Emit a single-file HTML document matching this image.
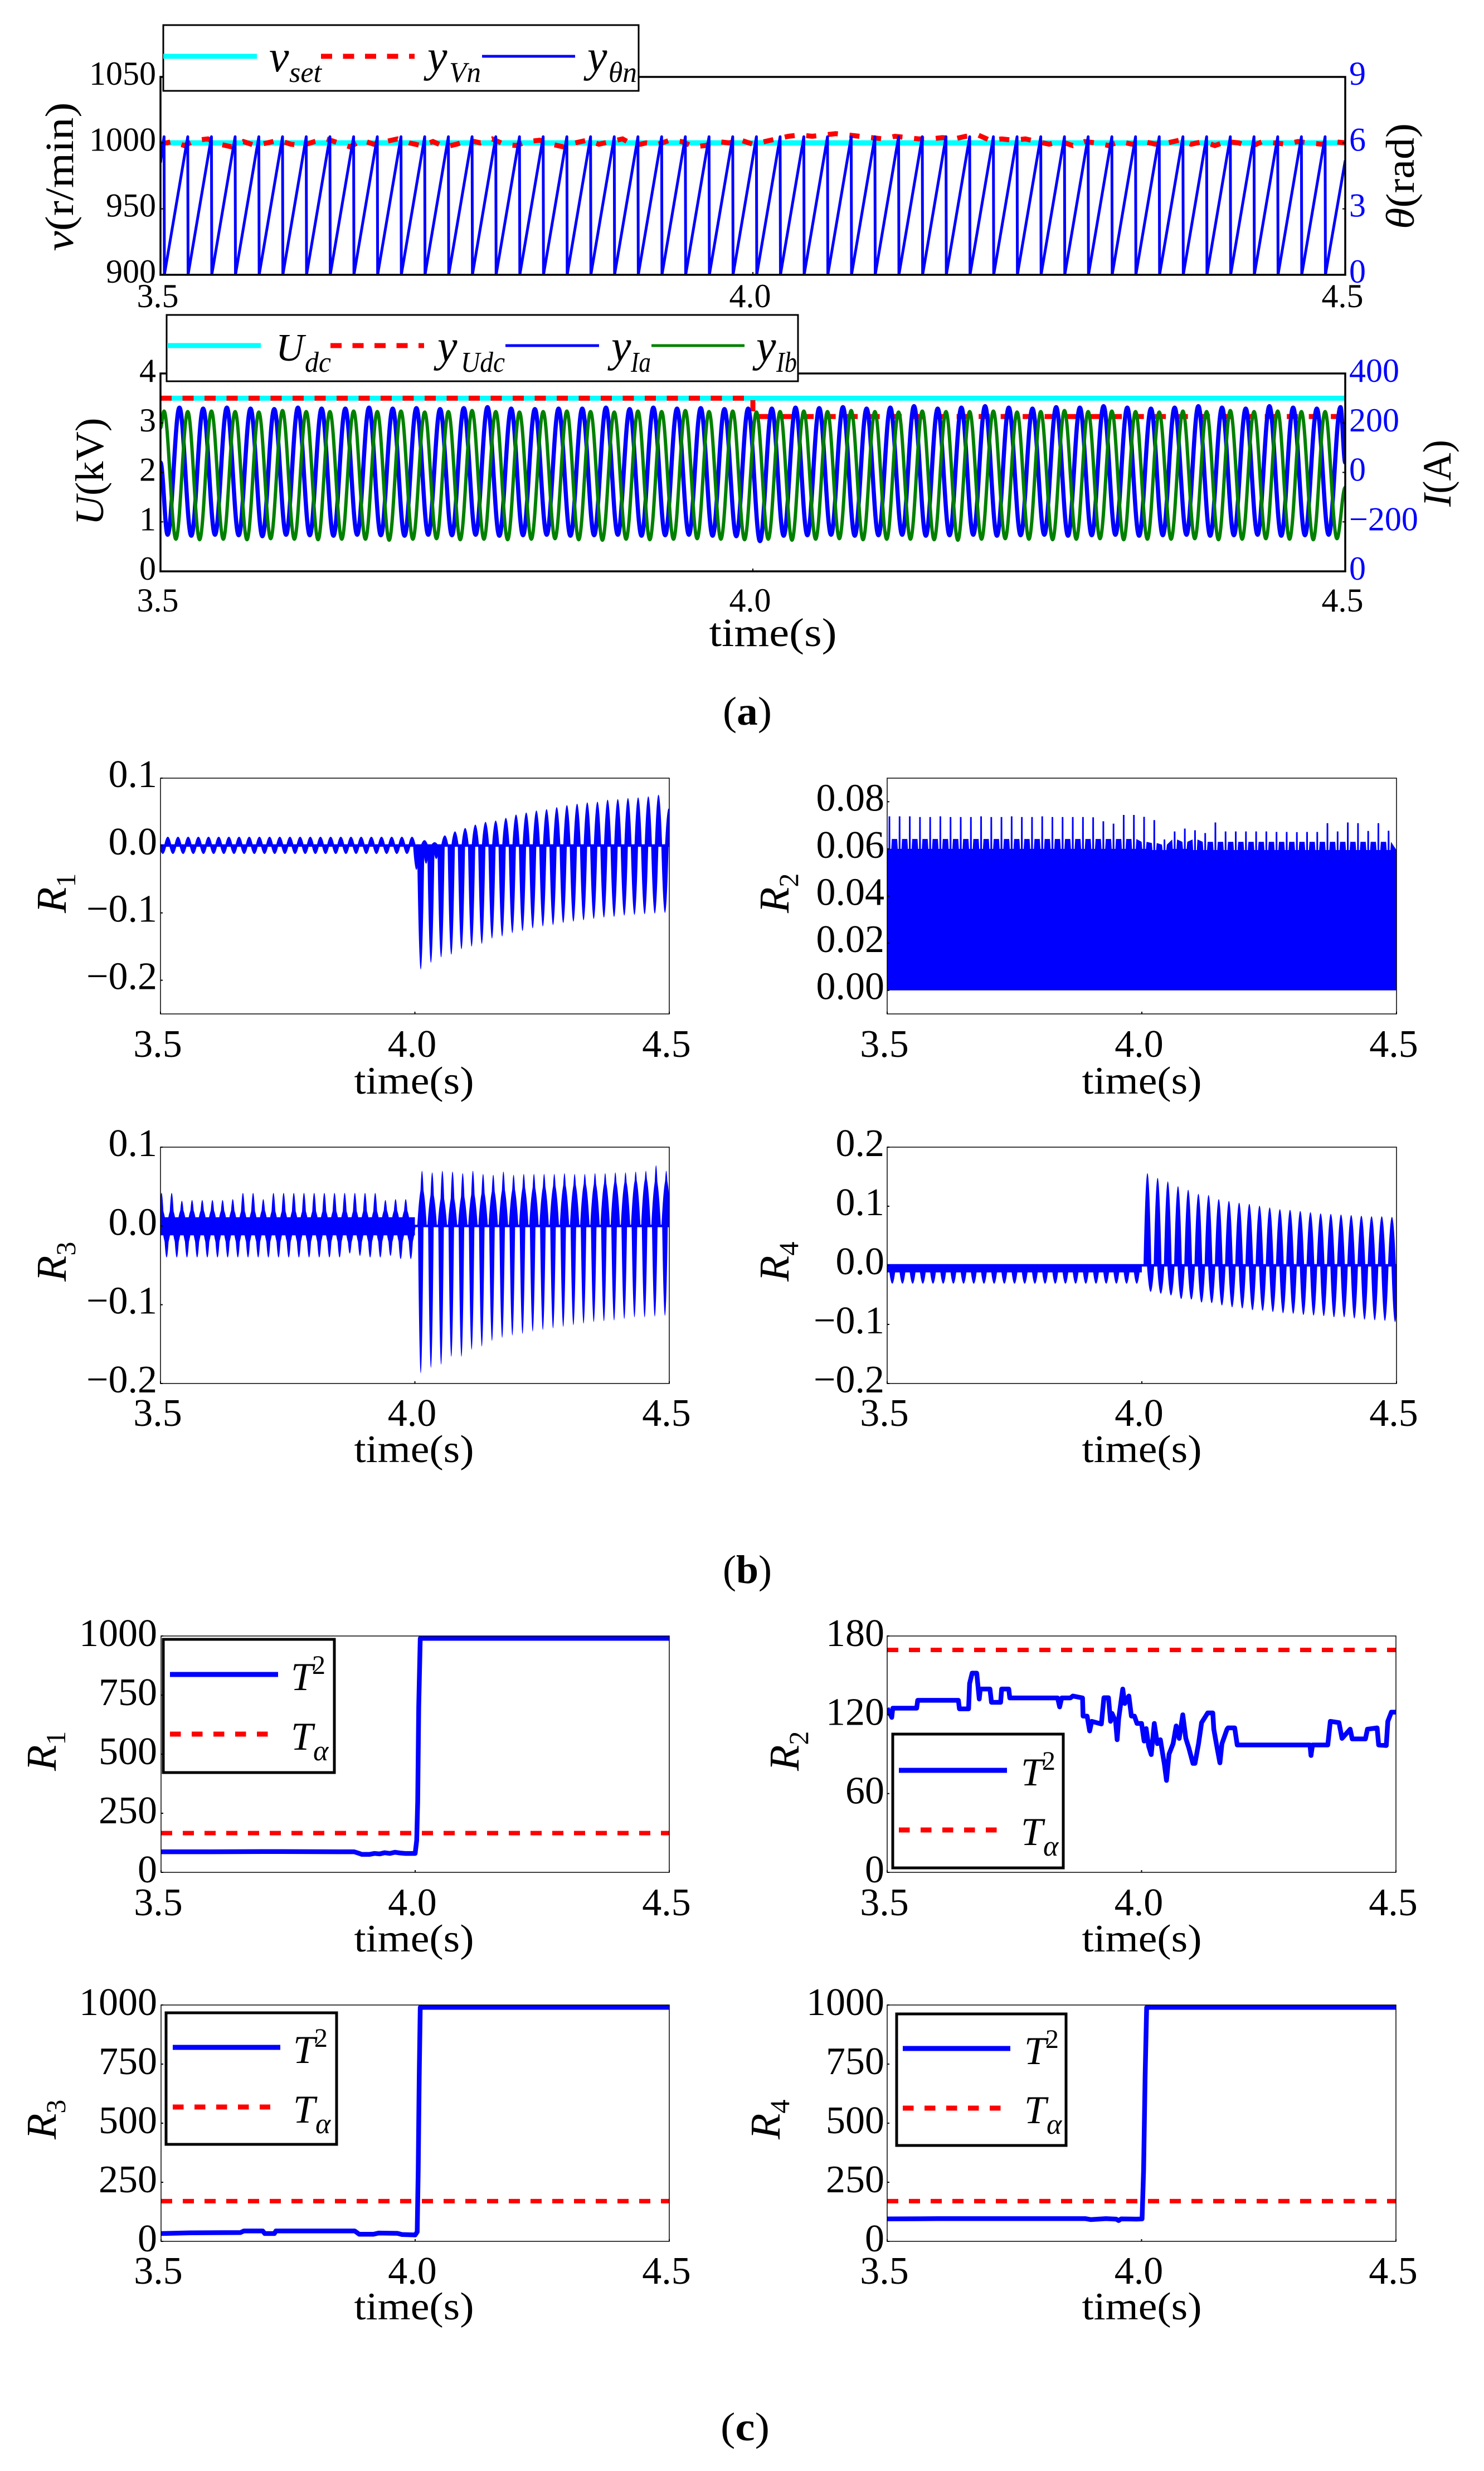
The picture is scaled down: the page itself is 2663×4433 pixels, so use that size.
<!DOCTYPE html>
<html lang="en">
<head>
<meta charset="utf-8">
<title>Fault response chart</title>
<style>
html,body{margin:0;padding:0;background:#fff;}
svg{display:block;}
text{font-family:"Liberation Serif",serif;fill:#000;}
.i{font-style:italic;}
</style>
</head>
<body>
<svg xmlns="http://www.w3.org/2000/svg" width="2663" height="4433" viewBox="0 0 2663 4433">
<defs>
<clipPath id="a1-clip"><rect x="288" y="138" width="2126" height="355"/></clipPath>
<clipPath id="a2-clip"><rect x="288" y="670" width="2126" height="355"/></clipPath>
<clipPath id="b1-clip"><rect x="288" y="1396" width="913" height="423"/></clipPath>
<clipPath id="b2-clip"><rect x="1592" y="1396" width="914" height="423"/></clipPath>
<clipPath id="b3-clip"><rect x="288" y="2058" width="913" height="424"/></clipPath>
<clipPath id="b4-clip"><rect x="1592" y="2058" width="914" height="424"/></clipPath>
<clipPath id="c1-clip"><rect x="288" y="2935" width="913" height="424"/></clipPath>
<clipPath id="c2-clip"><rect x="1592" y="2935" width="914" height="424"/></clipPath>
<clipPath id="c3-clip"><rect x="288" y="3597" width="913" height="424"/></clipPath>
<clipPath id="c4-clip"><rect x="1592" y="3597" width="914" height="424"/></clipPath>
</defs>

<g>
  <g id="a1-marks" clip-path="url(#a1-clip)"></g>
  <g id="a1-axes"></g>
  <text x="131" y="317" font-size="72" text-anchor="middle" textLength="267" lengthAdjust="spacingAndGlyphs" transform="rotate(-90 131 317)"><tspan class="i">v</tspan>(r/min)</text>
  <text x="2537" y="316" font-size="72" text-anchor="middle" textLength="190" lengthAdjust="spacingAndGlyphs" transform="rotate(-90 2537 316)"><tspan class="i">θ</tspan>(rad)</text>
  <g>
    <rect x="293" y="45" width="853" height="118" fill="#fff" stroke="#000" stroke-width="3"/>
    <line x1="293" x2="461" y1="101" y2="101" stroke="#00ffff" stroke-width="9"/>
    <text x="483" y="128" font-size="80" class="i">v</text>
    <text x="519" y="147" font-size="52" class="i" textLength="58" lengthAdjust="spacingAndGlyphs">set</text>
    <line x1="576" x2="744" y1="101" y2="101" stroke="#ff0000" stroke-width="9" stroke-dasharray="20 19.5"/>
    <text x="767" y="128" font-size="80" class="i">y</text>
    <text x="806" y="147" font-size="52" class="i" textLength="57" lengthAdjust="spacingAndGlyphs">Vn</text>
    <line x1="865" x2="1032" y1="101" y2="101" stroke="#0000ff" stroke-width="5"/>
    <text x="1054" y="128" font-size="80" class="i">y</text>
    <text x="1092" y="147" font-size="52" class="i" textLength="51" lengthAdjust="spacingAndGlyphs">θn</text>
  </g>
</g>

<g>
  <g id="a2-marks" clip-path="url(#a2-clip)"></g>
  <g id="a2-axes"></g>
  <text x="185" y="846" font-size="72" text-anchor="middle" textLength="193" lengthAdjust="spacingAndGlyphs" transform="rotate(-90 185 846)"><tspan class="i">U</tspan>(kV)</text>
  <text x="2603" y="849" font-size="72" text-anchor="middle" textLength="120" lengthAdjust="spacingAndGlyphs" transform="rotate(-90 2603 849)"><tspan class="i">I</tspan>(A)</text>
  <text x="1387" y="1159" font-size="72" text-anchor="middle" textLength="229" lengthAdjust="spacingAndGlyphs">time(s)</text>
  <g>
    <rect x="299" y="565" width="1133" height="119" fill="#fff" stroke="#000" stroke-width="3"/>
    <line x1="300" x2="468" y1="620" y2="620" stroke="#00ffff" stroke-width="9"/>
    <text x="495" y="647" font-size="70" class="i">U</text>
    <text x="547" y="667" font-size="52" class="i" textLength="47" lengthAdjust="spacingAndGlyphs">dc</text>
    <line x1="593" x2="761" y1="620" y2="620" stroke="#ff0000" stroke-width="9" stroke-dasharray="20 19.5"/>
    <text x="785" y="648" font-size="80" class="i">y</text>
    <text x="827" y="667" font-size="52" class="i" textLength="79" lengthAdjust="spacingAndGlyphs">Udc</text>
    <line x1="907" x2="1075" y1="620" y2="620" stroke="#0000ff" stroke-width="5"/>
    <text x="1097" y="648" font-size="80" class="i">y</text>
    <text x="1132" y="667" font-size="52" class="i" textLength="36" lengthAdjust="spacingAndGlyphs">Ia</text>
    <line x1="1169" x2="1336" y1="620" y2="620" stroke="#008000" stroke-width="5"/>
    <text x="1357" y="648" font-size="80" class="i">y</text>
    <text x="1393" y="667" font-size="52" class="i" textLength="37" lengthAdjust="spacingAndGlyphs">Ib</text>
  </g>
</g>
<text x="1341" y="1300" font-size="72" text-anchor="middle" textLength="88" lengthAdjust="spacingAndGlyphs">(<tspan font-weight="bold">a</tspan>)</text>

<g>
  <g id="b1-marks" clip-path="url(#b1-clip)"></g>
  <g id="b1-axes"></g>
  <text x="118" y="1638" font-size="76" transform="rotate(-90 118 1638)"><tspan class="i">R</tspan><tspan font-size="50" dy="17">1</tspan></text>
  <text x="743" y="1962" font-size="70" text-anchor="middle" textLength="215" lengthAdjust="spacingAndGlyphs">time(s)</text>
</g>
<g>
  <g id="b2-marks" clip-path="url(#b2-clip)"></g>
  <g id="b2-axes"></g>
  <text x="1415" y="1638" font-size="76" transform="rotate(-90 1415 1638)"><tspan class="i">R</tspan><tspan font-size="50" dy="17">2</tspan></text>
  <text x="2049" y="1962" font-size="70" text-anchor="middle" textLength="215" lengthAdjust="spacingAndGlyphs">time(s)</text>
</g>
<g>
  <g id="b3-marks" clip-path="url(#b3-clip)"></g>
  <g id="b3-axes"></g>
  <text x="118" y="2299" font-size="76" transform="rotate(-90 118 2299)"><tspan class="i">R</tspan><tspan font-size="50" dy="17">3</tspan></text>
  <text x="743" y="2623" font-size="70" text-anchor="middle" textLength="215" lengthAdjust="spacingAndGlyphs">time(s)</text>
</g>
<g>
  <g id="b4-marks" clip-path="url(#b4-clip)"></g>
  <g id="b4-axes"></g>
  <text x="1415" y="2299" font-size="76" transform="rotate(-90 1415 2299)"><tspan class="i">R</tspan><tspan font-size="50" dy="17">4</tspan></text>
  <text x="2049" y="2623" font-size="70" text-anchor="middle" textLength="215" lengthAdjust="spacingAndGlyphs">time(s)</text>
</g>
<text x="1341" y="2840" font-size="72" text-anchor="middle" textLength="88" lengthAdjust="spacingAndGlyphs">(<tspan font-weight="bold">b</tspan>)</text>

<g>
  <g id="c1-marks" clip-path="url(#c1-clip)"></g>
  <g id="c1-axes"></g>
  <text x="100" y="3177" font-size="76" transform="rotate(-90 100 3177)"><tspan class="i">R</tspan><tspan font-size="50" dy="17">1</tspan></text>
  <text x="743" y="3501" font-size="70" text-anchor="middle" textLength="215" lengthAdjust="spacingAndGlyphs">time(s)</text>
  <g>
    <rect x="293" y="2941" width="307" height="239" fill="#fff" stroke="#000" stroke-width="5"/>
    <line x1="305" x2="499" y1="3004" y2="3004" stroke="#0000ff" stroke-width="9"/>
    <text x="522" y="3032" font-size="71" class="i">T</text>
    <text x="560" y="3003" font-size="48">2</text>
    <line x1="305" x2="482" y1="3111" y2="3111" stroke="#ff0000" stroke-width="9" stroke-dasharray="19.5 19.5"/>
    <text x="522" y="3139" font-size="71" class="i">T</text>
    <text x="562" y="3158" font-size="52" class="i">α</text>
  </g>
</g>
<g>
  <g id="c2-marks" clip-path="url(#c2-clip)"></g>
  <g id="c2-axes"></g>
  <text x="1433" y="3177" font-size="76" transform="rotate(-90 1433 3177)"><tspan class="i">R</tspan><tspan font-size="50" dy="17">2</tspan></text>
  <text x="2049" y="3501" font-size="70" text-anchor="middle" textLength="215" lengthAdjust="spacingAndGlyphs">time(s)</text>
  <g>
    <rect x="1602" y="3111" width="306" height="240" fill="#fff" stroke="#000" stroke-width="5"/>
    <line x1="1613" x2="1807" y1="3176" y2="3176" stroke="#0000ff" stroke-width="9"/>
    <text x="1832" y="3203" font-size="71" class="i">T</text>
    <text x="1870" y="3175" font-size="48">2</text>
    <line x1="1613" x2="1790" y1="3283" y2="3283" stroke="#ff0000" stroke-width="9" stroke-dasharray="19.5 19.5"/>
    <text x="1832" y="3310" font-size="71" class="i">T</text>
    <text x="1872" y="3329" font-size="52" class="i">α</text>
  </g>
</g>
<g>
  <g id="c3-marks" clip-path="url(#c3-clip)"></g>
  <g id="c3-axes"></g>
  <text x="100" y="3838" font-size="76" transform="rotate(-90 100 3838)"><tspan class="i">R</tspan><tspan font-size="50" dy="17">3</tspan></text>
  <text x="743" y="4161" font-size="70" text-anchor="middle" textLength="215" lengthAdjust="spacingAndGlyphs">time(s)</text>
  <g>
    <rect x="298" y="3611" width="306" height="236" fill="#fff" stroke="#000" stroke-width="5"/>
    <line x1="310" x2="503" y1="3673" y2="3673" stroke="#0000ff" stroke-width="9"/>
    <text x="526" y="3701" font-size="71" class="i">T</text>
    <text x="564" y="3672" font-size="48">2</text>
    <line x1="310" x2="485" y1="3780" y2="3780" stroke="#ff0000" stroke-width="9" stroke-dasharray="19.5 19.5"/>
    <text x="526" y="3808" font-size="71" class="i">T</text>
    <text x="566" y="3827" font-size="52" class="i">α</text>
  </g>
</g>
<g>
  <g id="c4-marks" clip-path="url(#c4-clip)"></g>
  <g id="c4-axes"></g>
  <text x="1399" y="3838" font-size="76" transform="rotate(-90 1399 3838)"><tspan class="i">R</tspan><tspan font-size="50" dy="17">4</tspan></text>
  <text x="2049" y="4161" font-size="70" text-anchor="middle" textLength="215" lengthAdjust="spacingAndGlyphs">time(s)</text>
  <g>
    <rect x="1609" y="3613" width="304" height="236" fill="#fff" stroke="#000" stroke-width="5"/>
    <line x1="1620" x2="1813" y1="3675" y2="3675" stroke="#0000ff" stroke-width="9"/>
    <text x="1838" y="3703" font-size="71" class="i">T</text>
    <text x="1876" y="3674" font-size="48">2</text>
    <line x1="1620" x2="1796" y1="3782" y2="3782" stroke="#ff0000" stroke-width="9" stroke-dasharray="19.5 19.5"/>
    <text x="1838" y="3809" font-size="71" class="i">T</text>
    <text x="1878" y="3828" font-size="52" class="i">α</text>
  </g>
</g>
<text x="1337" y="4378" font-size="72" text-anchor="middle" textLength="88" lengthAdjust="spacingAndGlyphs">(<tspan font-weight="bold">c</tspan>)</text>
</svg>

<script>
// ---------- shared categories and tick labels ----------
const cycleTimes = [3.5,3.52,3.54,3.56,3.58,3.6,3.62,3.64,3.66,3.68,3.7,3.72,3.74,3.76,3.78,3.8,3.82,3.84,3.86,3.88,3.9,3.92,3.94,3.96,3.98,4.0,4.02,4.04,4.06,4.08,4.1,4.12,4.14,4.16,4.18,4.2,4.22,4.24,4.26,4.28,4.3,4.32,4.34,4.36,4.38,4.4,4.42,4.44,4.46,4.48];
const xTickValues = [3.5,4.0,4.5];
const xTickLabels = ['3.5','4.0','4.5'];
const speedTicks = [900,950,1000,1050];
const speedTickLabels = ['900','950','1000','1050'];
const angleTicks = [0,3,6,9];
const angleTickLabels = ['0','3','6','9'];
const voltageTicks = [0,1,2,3,4];
const voltageTickLabels = ['0','1','2','3','4'];
const currentTicks = [400,200,0,-200,-400];
const currentTickLabels = ['400','200','0','−200','0'];
const r1Ticks = [0.1,0,-0.1,-0.2];
const r1TickLabels = ['0.1','0.0','−0.1','−0.2'];
const r2Ticks = [0.08,0.06,0.04,0.02,0];
const r2TickLabels = ['0.08','0.06','0.04','0.02','0.00'];
const r3Ticks = [0.1,0,-0.1,-0.2];
const r3TickLabels = ['0.1','0.0','−0.1','−0.2'];
const r4Ticks = [0.2,0.1,0,-0.1,-0.2];
const r4TickLabels = ['0.2','0.1','0.0','−0.1','−0.2'];
const t2Ticks = [1000,750,500,250,0];
const t2TickLabels = ['1000','750','500','250','0'];
const t2R2Ticks = [180,120,60,0];
const t2R2TickLabels = ['180','120','60','0'];

// ---------- panel (a) speed ----------
const speedSetTimes = [3.5,4.5];
const speedSetValues = [1000,1000];
const yVnTimes = [3.5,3.51,3.52,3.53,3.54,3.55,3.56,3.57,3.58,3.59,3.6,3.61,3.62,3.63,3.64,3.65,3.66,3.67,3.68,3.69,3.7,3.71,3.72,3.73,3.74,3.75,3.76,3.77,3.78,3.79,3.8,3.81,3.82,3.83,3.84,3.85,3.86,3.87,3.88,3.89,3.9,3.91,3.92,3.93,3.94,3.95,3.96,3.97,3.98,3.99,4.0,4.01,4.02,4.03,4.04,4.05,4.06,4.07,4.08,4.09,4.1,4.11,4.12,4.13,4.14,4.15,4.16,4.17,4.18,4.19,4.2,4.21,4.22,4.23,4.24,4.25,4.26,4.27,4.28,4.29,4.3,4.31,4.32,4.33,4.34,4.35,4.36,4.37,4.38,4.39,4.4,4.41,4.42,4.43,4.44,4.45,4.46,4.47,4.48,4.49,4.5];
const yVnValues = [999,1001,998,1002,1003,999,997,1001,998,1000,1002,999,998,1001,1003,1000,997,1002,999,1001,1003,1000,998,1001,997,999,1002,1000,1003,999,998,1001,1002,999,997,1000,1002,999,1001,1003,998,1000,999,1002,1001,997,998,1001,1000,1002,999,1001,1003,1005,1006,1005,1006,1007,1006,1005,1004,1003,1005,1004,1003,1003,1004,1003,1005,1006,1002,1003,1002,1003,1001,999,1001,998,1001,1000,998,1001,999,1001,999,1000,1002,999,1001,998,1001,1000,997,1001,1000,999,1001,1000,999,1001,1000];
const thetaPeaks = [6.28,6.28,6.28,6.28,6.28,6.28,6.28,6.28,6.28,6.28,6.28,6.28,6.28,6.28,6.28,6.28,6.28,6.28,6.28,6.28,6.28,6.28,6.28,6.28,6.28,6.28,6.28,6.28,6.28,6.28,6.28,6.28,6.28,6.28,6.28,6.28,6.28,6.28,6.28,6.28,6.28,6.28,6.28,6.28,6.28,6.28,6.28,6.28,6.28,6.28];
const thetaFirst = 5.1;
const thetaLast = 5.2;

// ---------- panel (a) voltage and current ----------
const udcSetTimes = [3.5,4.5];
const udcSetValues = [3.5,3.5];
const yUdcTimes = [3.5,4.0,4.0,4.5];
const yUdcValues = [3.5,3.5,3.13,3.13];
const iaPeaks = [262,258,262,258,256,262,258,258,262,258,260,256,260,264,258,256,258,258,262,256,262,258,260,256,258,258,262,260,264,258,262,268,258,262,268,262,258,264,262,268,262,258,262,268,262,258,268,262,258,264];
const iaTroughs = [-252,-256,-252,-254,-258,-252,-254,-256,-252,-254,-256,-252,-254,-252,-256,-254,-252,-256,-254,-252,-256,-254,-252,-256,-258,-278,-256,-254,-252,-256,-254,-252,-256,-254,-252,-256,-254,-252,-256,-254,-252,-256,-254,-252,-256,-254,-252,-256,-254,-252];
const ibPeaks = [248,246,248,246,244,250,246,246,248,246,248,244,246,250,246,244,246,248,246,244,248,246,250,246,248,244,246,248,246,250,246,244,248,246,246,248,244,246,250,246,248,246,244,248,246,250,246,248,246,246];
const ibTroughs = [-270,-272,-270,-272,-268,-270,-272,-270,-270,-274,-270,-268,-272,-270,-272,-270,-268,-272,-274,-270,-272,-270,-268,-270,-272,-270,-274,-270,-268,-272,-270,-270,-272,-274,-270,-268,-270,-272,-270,-268,-272,-270,-270,-268,-272,-270,-268,-270,-272,-268];
const iaFirst = 40;
const iaLast = 40;
const ibFirst = 180;
const ibLast = -60;

// ---------- panel (b) residuals ----------
const r1Upper = [0.013,0.013,0.013,0.013,0.013,0.013,0.013,0.013,0.013,0.013,0.013,0.013,0.013,0.013,0.013,0.013,0.013,0.013,0.013,0.013,0.013,0.013,0.013,0.013,0.013,0.008,0.005,0.015,0.021,0.026,0.031,0.035,0.037,0.041,0.046,0.049,0.052,0.054,0.057,0.06,0.062,0.064,0.065,0.068,0.069,0.0705,0.0715,0.073,0.0755,0.055];
const r1Lower = [-0.0125,-0.0125,-0.0125,-0.0125,-0.0125,-0.0125,-0.0125,-0.0125,-0.0125,-0.0125,-0.0125,-0.0125,-0.0125,-0.0125,-0.0125,-0.0125,-0.0125,-0.0125,-0.0125,-0.0125,-0.0125,-0.0125,-0.0125,-0.0125,-0.0125,-0.184,-0.174,-0.166,-0.162,-0.154,-0.15,-0.146,-0.138,-0.135,-0.13,-0.127,-0.123,-0.12,-0.118,-0.115,-0.113,-0.111,-0.109,-0.107,-0.106,-0.104,-0.103,-0.102,-0.101,-0.1];
const r1TransientTimes = [4.003,4.013,4.022,4.03,4.042,4.05];
const r1TransientValues = [-0.036,-0.03,-0.027,-0.027,-0.02,-0.018];

const r2Spikes = [0.0738,0.0738,0.0738,0.0735,0.0735,0.0738,0.0735,0.0735,0.0735,0.0738,0.0735,0.0735,0.0738,0.0735,0.0735,0.0738,0.0735,0.0735,0.0735,0.0735,0.0734,0.0717,0.0707,0.0744,0.0744,0.0736,0.0722,0.064,0.0674,0.0686,0.0679,0.0667,0.0712,0.0674,0.0674,0.0674,0.0674,0.0674,0.0672,0.0672,0.0671,0.0672,0.0672,0.0709,0.0674,0.0712,0.0709,0.0676,0.0709,0.0677];
const r2Plateau = [0.0642,0.0642,0.0642,0.0642,0.0642,0.0642,0.0642,0.0642,0.0642,0.0642,0.0642,0.0642,0.0642,0.0642,0.0642,0.0642,0.0642,0.0642,0.0642,0.0642,0.0642,0.0642,0.0642,0.0642,0.0642,0.063,0.0625,0.0618,0.064,0.063,0.064,0.063,0.063,0.063,0.063,0.063,0.063,0.063,0.063,0.063,0.063,0.063,0.063,0.063,0.063,0.063,0.063,0.063,0.063,0.063];
const r2Dips = [0.06,0.06,0.06,0.06,0.06,0.06,0.06,0.06,0.06,0.06,0.06,0.06,0.06,0.06,0.06,0.06,0.06,0.06,0.06,0.06,0.06,0.06,0.06,0.06,0.06,0.06,0.0595,0.0595,0.06,0.06,0.0595,0.0595,0.0595,0.0595,0.0595,0.0595,0.0595,0.0595,0.0595,0.0595,0.0595,0.0595,0.0595,0.0595,0.0595,0.0595,0.0595,0.0595,0.0595,0.0595];

const r3Upper = [0.042,0.042,0.032,0.033,0.033,0.033,0.033,0.034,0.042,0.042,0.034,0.042,0.042,0.042,0.042,0.042,0.042,0.042,0.042,0.042,0.042,0.042,0.033,0.034,0.034,0.07,0.068,0.07,0.069,0.067,0.07,0.066,0.065,0.069,0.065,0.066,0.066,0.066,0.066,0.067,0.066,0.066,0.067,0.067,0.068,0.068,0.069,0.07,0.077,0.07];
const r3Lower = [-0.04,-0.04,-0.04,-0.04,-0.04,-0.04,-0.04,-0.04,-0.04,-0.04,-0.04,-0.04,-0.04,-0.04,-0.04,-0.04,-0.04,-0.04,-0.035,-0.038,-0.04,-0.04,-0.038,-0.042,-0.042,-0.187,-0.18,-0.176,-0.166,-0.166,-0.157,-0.153,-0.146,-0.142,-0.139,-0.137,-0.134,-0.132,-0.13,-0.128,-0.126,-0.124,-0.122,-0.121,-0.12,-0.118,-0.116,-0.116,-0.115,-0.114];
const r3Shoulder = [0.022,0.022,0.022,0.022,0.022,0.022,0.022,0.022,0.022,0.022,0.022,0.022,0.022,0.022,0.022,0.022,0.022,0.022,0.022,0.022,0.022,0.022,0.022,0.022,0.022,0.05,0.044,0.04,0.04,0.042,0.045,0.046,0.048,0.05,0.05,0.052,0.052,0.053,0.054,0.055,0.055,0.056,0.056,0.057,0.058,0.058,0.06,0.062,0.06,0.06];
const r3LowerShoulder = [-0.024,-0.024,-0.024,-0.024,-0.024,-0.024,-0.024,-0.024,-0.024,-0.024,-0.024,-0.024,-0.024,-0.024,-0.024,-0.024,-0.024,-0.024,-0.024,-0.024,-0.024,-0.024,-0.024,-0.024,-0.024,0,0,0,0,0,0,0,0,0,0,0,0,0,0,0,0,0,0,0,0,0,0,0,0,0];
const r3MassUp = [0.011,0.011,0.011,0.011,0.011,0.011,0.011,0.011,0.011,0.011,0.011,0.011,0.011,0.011,0.011,0.011,0.011,0.011,0.011,0.011,0.011,0.011,0.011,0.011,0.011,0,0,0,0,0,0,0,0,0,0,0,0,0,0,0,0,0,0,0,0,0,0,0,0,0];
const r3MassLow = [-0.012,-0.012,-0.012,-0.012,-0.012,-0.012,-0.012,-0.012,-0.012,-0.012,-0.012,-0.012,-0.012,-0.012,-0.012,-0.012,-0.012,-0.012,-0.012,-0.012,-0.012,-0.012,-0.012,-0.012,-0.012,0,0,0,0,0,0,0,0,0,0,0,0,0,0,0,0,0,0,0,0,0,0,0,0,0];

const r4Upper = [0,0,0,0,0,0,0,0,0,0,0,0,0,0,0,0,0,0,0,0,0,0,0,0,0,0.156,0.148,0.142,0.134,0.128,0.121,0.119,0.112,0.109,0.106,0.104,0.101,0.098,0.095,0.094,0.092,0.09,0.088,0.087,0.086,0.085,0.084,0.083,0.083,0.082];
const r4Lower = [-0.031,-0.031,-0.031,-0.031,-0.031,-0.031,-0.031,-0.031,-0.031,-0.031,-0.031,-0.031,-0.031,-0.031,-0.031,-0.031,-0.031,-0.031,-0.031,-0.031,-0.031,-0.031,-0.031,-0.031,-0.031,-0.045,-0.048,-0.051,-0.057,-0.058,-0.063,-0.064,-0.068,-0.071,-0.073,-0.076,-0.077,-0.079,-0.081,-0.082,-0.084,-0.085,-0.086,-0.088,-0.088,-0.09,-0.092,-0.093,-0.094,-0.096];
const r4BandDepth = [-0.012,-0.012,-0.012,-0.012,-0.012,-0.012,-0.012,-0.012,-0.012,-0.012,-0.012,-0.012,-0.012,-0.012,-0.012,-0.012,-0.012,-0.012,-0.012,-0.012,-0.012,-0.012,-0.012,-0.012,-0.012,0,0,0,0,0,0,0,0,0,0,0,0,0,0,0,0,0,0,0,0,0,0,0,0,0];

// ---------- panel (c) statistics ----------
const t2R1Times = [3.5,3.6,3.7,3.85,3.88,3.89,3.895,3.91,3.92,3.93,3.94,3.95,3.96,3.97,3.98,3.99,4.0,4.003,4.005,4.007,4.01,4.5];
const t2R1Values = [87,87,88,87,87,80,76,76,80,78,83,80,85,82,80,80,80,135,300,700,990,990];
const t2R2Times = [3.5,3.509,3.511,3.558,3.56,3.64,3.642,3.66,3.662,3.667,3.676,3.681,3.683,3.702,3.705,3.723,3.725,3.739,3.741,3.835,3.839,3.843,3.86,3.865,3.884,3.885,3.893,3.898,3.902,3.921,3.926,3.935,3.939,3.942,3.949,3.952,3.955,3.963,3.967,3.975,3.98,3.986,3.991,4.0,4.005,4.009,4.014,4.019,4.025,4.031,4.037,4.042,4.045,4.049,4.054,4.062,4.068,4.074,4.081,4.087,4.093,4.101,4.105,4.112,4.118,4.13,4.14,4.142,4.147,4.154,4.158,4.168,4.17,4.183,4.188,4.331,4.333,4.336,4.366,4.371,4.388,4.394,4.41,4.414,4.44,4.444,4.463,4.466,4.481,4.484,4.491,4.5];
const t2R2Values = [125,118,125,125,131,131,124.5,124.5,143.8,151.7,151.7,132,139.6,139.6,129.5,129.5,139.6,139.6,132.8,132.8,126,132.8,132.8,134.3,132.8,119,119,107.7,115,113,133,133,115,121,115,101,117,139.6,128.6,134.3,119,119,113.4,113.4,100,109.5,96,89.7,113.4,98,101,89,82,70,90,98,111.5,102,120,102,94.6,83,83,98,114,121.4,121.4,109,98,83.4,98,109,110,110,97,97,89,97,97,115,114,102,109,101.6,101.6,109,110,97,96.6,115,122,122];
const t2R3Times = [3.5,3.556,3.656,3.663,3.7,3.704,3.723,3.726,3.881,3.89,3.918,3.928,3.965,3.974,4.0,4.004,4.006,4.008,4.01,4.5];
const t2R3Values = [33,36,37,44,44,33,33,44,44,30,30,35,34,29,27,40,300,700,990,990];
const t2R4Times = [3.5,3.6,3.89,3.9,3.93,3.95,3.955,3.96,3.99,4.001,4.004,4.007,4.01,4.5];
const t2R4Values = [95,96,96,92,96,94,88,95,94,95,300,700,990,990];
const limitTimes = [3.5,4.5];
const limitR1 = [166,166];
const limitR2 = [169.4,169.4];
const limitR3 = [170,170];
const limitR4 = [170,170];

// ---------- helpers ----------
const SVG_NS = 'http://www.w3.org/2000/svg';
function linear(d0, d1, r0, r1) {
  return function (v) { return r0 + (v - d0) / (d1 - d0) * (r1 - r0); };
}
function mk(parent, tag, name, attrs, text) {
  const el = document.createElementNS(SVG_NS, tag);
  
  
  for (const k in attrs) el.setAttribute(k, attrs[k]);
  if (text !== undefined) el.textContent = text;
  parent.appendChild(el);
  return el;
}
function f(n) { return n.toFixed(2); }
function linePath(ts, vs, sx, sy) {
  let d = '';
  for (let i = 0; i < ts.length; i++) d += (i ? 'L' : 'M') + f(sx(ts[i])) + ' ' + f(sy(vs[i]));
  return d;
}
function lensPath(values, phase, halfWidth, sx, sy) {
  const y0 = sy(0);
  let d = '';
  for (let i = 0; i < values.length; i++) {
    const t = cycleTimes[i] + phase(cycleTimes[i]);
    const x = sx(t);
    const ctrl = y0 + 2 * (sy(values[i]) - y0);
    d += 'M' + f(x - halfWidth) + ' ' + f(y0) + 'Q' + f(x) + ' ' + f(ctrl) + ' ' + f(x + halfWidth) + ' ' + f(y0) + 'Z';
  }
  return d;
}
function stepBand(up, low, sx, sy) {
  let top = '', bottom = '';
  for (let i = 0; i < cycleTimes.length; i++) {
    const a = sx(cycleTimes[i]);
    const b = sx(cycleTimes[i] + 0.02);
    top += (i ? 'L' : 'M') + f(a) + ' ' + f(sy(up[i])) + 'L' + f(b) + ' ' + f(sy(up[i]));
    bottom = 'L' + f(b) + ' ' + f(sy(low[i])) + 'L' + f(a) + ' ' + f(sy(low[i])) + bottom;
  }
  return top + bottom + 'Z';
}
function drawAxes(id, box, sw, tickSize, xBase, ticks, labels, sy, labelRight, labelDy, fontSize, xName) {
  const g = document.getElementById(id);
  mk(g, 'rect', 'plot-frame', {x: box.x0, y: box.y1, width: box.x1 - box.x0, height: box.y0 - box.y1, fill: 'none', stroke: '#000', 'stroke-width': sw});
  const sx = linear(3.5, 4.5, box.x0, box.x1);
  xTickValues.forEach(function (v, i) {
    mk(g, 'line', 'x-tick', {x1: sx(v), x2: sx(v), y1: box.y0, y2: box.y0 - tickSize, stroke: '#000', 'stroke-width': 2});
    mk(g, 'text', xName, {x: sx(v) - 5, y: xBase, 'font-size': fontSize, 'text-anchor': 'middle'}, xTickLabels[i]);
  });
  ticks.forEach(function (v, i) {
    mk(g, 'line', 'y-tick', {x1: box.x0, x2: box.x0 + tickSize, y1: sy(v), y2: sy(v), stroke: '#000', 'stroke-width': 2});
    mk(g, 'text', 'y-tick-label', {x: labelRight, y: sy(v) + labelDy, 'font-size': fontSize, 'text-anchor': 'end'}, labels[i]);
  });
}
function drawRightAxis(id, box, ticks, labels, sy, dy) {
  const g = document.getElementById(id);
  ticks.forEach(function (v, i) {
    mk(g, 'line', 'right-y-tick', {x1: box.x1, x2: box.x1 - 5, y1: sy(v), y2: sy(v), stroke: '#000', 'stroke-width': 2});
    mk(g, 'text', 'right-y-tick-label', {x: box.x1 + 7, y: sy(v) + dy, 'font-size': 60, fill: '#0000ff', style: 'fill:#0000ff'}, labels[i]);
  });
}

// ---------- panel (a) speed ----------
(function () {
  const box = {x0: 288, x1: 2414, y0: 493, y1: 138};
  const sx = linear(3.5, 4.5, box.x0, box.x1);
  const sy = linear(900, 1050, box.y0, box.y1);
  const syTheta = linear(0, 9, box.y0, box.y1);
  const g = document.getElementById('a1-marks');
  mk(g, 'path', 'line-v-set', {d: linePath(speedSetTimes, speedSetValues, sx, sy), fill: 'none', stroke: '#00ffff', 'stroke-width': 9.5});
  mk(g, 'path', 'line-y-vn', {d: linePath(yVnTimes, yVnValues, sx, sy), fill: 'none', stroke: '#ff0000', 'stroke-width': 9, 'stroke-dasharray': '18 21'});
  let d = 'M' + f(sx(3.5)) + ' ' + f(syTheta(thetaFirst));
  cycleTimes.forEach(function (c, i) {
    const t = c + 0.003;
    d += 'L' + f(sx(t)) + ' ' + f(syTheta(thetaPeaks[i])) + 'L' + f(sx(t) + 0.6) + ' ' + f(syTheta(0));
  });
  d += 'L' + f(sx(4.5)) + ' ' + f(syTheta(thetaLast));
  mk(g, 'path', 'line-y-theta', {d: d, fill: 'none', stroke: '#0000ff', 'stroke-width': 5, 'stroke-linejoin': 'round'});
  drawAxes('a1-axes', box, 3.5, 5, 551, speedTicks, speedTickLabels, sy, 280, 14, 60, 'x-tick-label');
  drawRightAxis('a1-axes', box, angleTicks, angleTickLabels, syTheta, 14);
})();

// ---------- panel (a) voltage and current ----------
function wavePath(phases, first, last, sx, sy) {
  const pts = [[3.5, first]];
  cycleTimes.forEach(function (c, i) {
    phases.forEach(function (p) { pts.push([c + p.offset, p.values[i]]); });
  });
  pts.push([4.5, last]);
  let d = 'M' + f(sx(pts[0][0])) + ' ' + f(sy(pts[0][1]));
  for (let i = 1; i < pts.length; i++) {
    const x0 = sx(pts[i - 1][0]), x1 = sx(pts[i][0]);
    const k = (x1 - x0) * 0.36;
    d += 'C' + f(x0 + k) + ' ' + f(sy(pts[i - 1][1])) + ' ' + f(x1 - k) + ' ' + f(sy(pts[i][1])) + ' ' + f(x1) + ' ' + f(sy(pts[i][1]));
  }
  return d;
}
(function () {
  const box = {x0: 288, x1: 2414, y0: 1025, y1: 670};
  const sx = linear(3.5, 4.5, box.x0, box.x1);
  const sy = linear(0, 4, box.y0, box.y1);
  const syI = linear(-400, 400, box.y0, box.y1);
  const g = document.getElementById('a2-marks');
  mk(g, 'path', 'line-u-dc', {d: linePath(udcSetTimes, udcSetValues, sx, sy), fill: 'none', stroke: '#00ffff', 'stroke-width': 9});
  mk(g, 'path', 'line-y-udc', {d: linePath(yUdcTimes, yUdcValues, sx, sy), fill: 'none', stroke: '#ff0000', 'stroke-width': 9, 'stroke-dasharray': '20 19.5'});
  mk(g, 'path', 'line-y-ia', {d: wavePath([{offset: 0.006, values: iaTroughs}, {offset: 0.016, values: iaPeaks}], iaFirst, iaLast, sx, syI), fill: 'none', stroke: '#0000ff', 'stroke-width': 7.5, 'stroke-linejoin': 'round'});
  mk(g, 'path', 'line-y-ib', {d: wavePath([{offset: 0.003, values: ibPeaks}, {offset: 0.013, values: ibTroughs}], ibFirst, ibLast, sx, syI), fill: 'none', stroke: '#008000', 'stroke-width': 6, 'stroke-linejoin': 'round'});
  drawAxes('a2-axes', box, 3.5, 5, 1097, voltageTicks, voltageTickLabels, sy, 280, 15, 60, 'x-tick-label');
  drawRightAxis('a2-axes', box, currentTicks, currentTickLabels, syI, 15);
})();

// ---------- panel (b) R1 ----------
(function () {
  const box = {x0: 288, x1: 1201, y0: 1819, y1: 1396};
  const sx = linear(3.5, 4.5, box.x0, box.x1);
  const sy = linear(-0.25, 0.1, box.y0, box.y1);
  const g = document.getElementById('b1-marks');
  mk(g, 'path', 'r1-upper-lobes', {d: lensPath(r1Upper, function (t) { return t < 3.999 ? 0.0144 : 0.0188; }, 6.5, sx, sy), fill: '#0000ff'});
  mk(g, 'path', 'r1-lower-lobes', {d: lensPath(r1Lower, function (t) { return t < 3.999 ? 0.0044 : 0.0115; }, 6.5, sx, sy), fill: '#0000ff'});
  let d = '';
  const y0 = sy(0);
  r1TransientTimes.forEach(function (t, i) {
    const x = sx(t);
    d += 'M' + f(x - 6) + ' ' + f(y0) + 'Q' + f(x) + ' ' + f(y0 + 2 * (sy(r1TransientValues[i]) - y0)) + ' ' + f(x + 6) + ' ' + f(y0) + 'Z';
  });
  mk(g, 'path', 'r1-transient-lobes', {d: d, fill: '#0000ff'});
  mk(g, 'line', 'r1-zero-band', {x1: box.x0, x2: box.x1, y1: y0, y2: y0, stroke: '#0000ff', 'stroke-width': 4.5});
  drawAxes('b1-axes', box, 1.5, 4, 1896, r1Ticks, r1TickLabels, sy, 282, 16, 70, 'x-tick-label');
})();

// ---------- panel (b) R2 ----------
(function () {
  const box = {x0: 1592, x1: 2506, y0: 1819, y1: 1396};
  const sx = linear(3.5, 4.5, box.x0, box.x1);
  const sy = linear(-0.01, 0.09, box.y0, box.y1);
  const g = document.getElementById('b2-marks');
  let d = 'M' + f(sx(3.5)) + ' ' + f(sy(0)) + 'L' + f(sx(3.5)) + ' ' + f(sy(r2Plateau[0]));
  cycleTimes.forEach(function (c, i) {
    const s = c + 0.0044;
    d += 'L' + f(sx(s - 0.0048)) + ' ' + f(sy(r2Plateau[i]));
    d += 'L' + f(sx(s - 0.0036)) + ' ' + f(sy(r2Dips[i]));
    d += 'L' + f(sx(s - 0.0018)) + ' ' + f(sy(r2Dips[i]));
    d += 'L' + f(sx(s - 0.0016)) + ' ' + f(sy(r2Spikes[i]));
    d += 'L' + f(sx(s + 0.0016)) + ' ' + f(sy(r2Spikes[i]));
    d += 'L' + f(sx(s + 0.0018)) + ' ' + f(sy(r2Dips[i]));
    d += 'L' + f(sx(s + 0.0036)) + ' ' + f(sy(r2Dips[i]));
    d += 'L' + f(sx(s + 0.0048)) + ' ' + f(sy(r2Plateau[i]));
  });
  d += 'L' + f(sx(4.5)) + ' ' + f(sy(r2Dips[49])) + 'L' + f(sx(4.5)) + ' ' + f(sy(0)) + 'Z';
  mk(g, 'path', 'r2-envelope', {d: d, fill: '#0000ff'});
  drawAxes('b2-axes', box, 1.5, 4, 1896, r2Ticks, r2TickLabels, sy, 1587, 16, 70, 'x-tick-label');
})();

// ---------- panel (b) R3 ----------
(function () {
  const box = {x0: 288, x1: 1201, y0: 2482, y1: 2058};
  const sx = linear(3.5, 4.5, box.x0, box.x1);
  const sy = linear(-0.2, 0.1, box.y0, box.y1);
  const g = document.getElementById('b3-marks');
  const upPhase = function (t) { return t < 3.999 ? 0.002 : 0.014; };
  const lowPhase = function (t) { return t < 3.999 ? 0.012 : 0.0115; };
  mk(g, 'path', 'r3-mass', {d: stepBand(r3MassUp, r3MassLow, sx, sy), fill: '#0000ff'});
  mk(g, 'path', 'r3-shoulders', {d: lensPath(r3Shoulder, upPhase, 8.5, sx, sy), fill: '#0000ff'});
  mk(g, 'path', 'r3-lower-shoulders', {d: lensPath(r3LowerShoulder, lowPhase, 8.5, sx, sy), fill: '#0000ff'});
  mk(g, 'path', 'r3-upper-spikes', {d: lensPath(r3Upper, upPhase, 4.5, sx, sy), fill: '#0000ff'});
  mk(g, 'path', 'r3-lower-spikes', {d: lensPath(r3Lower, lowPhase, 5, sx, sy), fill: '#0000ff'});
  mk(g, 'line', 'r3-zero-band', {x1: box.x0, x2: box.x1, y1: sy(0), y2: sy(0), stroke: '#0000ff', 'stroke-width': 4.5});
  drawAxes('b3-axes', box, 1.5, 4, 2558, r3Ticks, r3TickLabels, sy, 282, 16, 70, 'x-tick-label');
})();

// ---------- panel (b) R4 ----------
(function () {
  const box = {x0: 1592, x1: 2506, y0: 2482, y1: 2058};
  const sx = linear(3.5, 4.5, box.x0, box.x1);
  const sy = linear(-0.2, 0.2, box.y0, box.y1);
  const g = document.getElementById('b4-marks');
  const zeros = r4BandDepth.map(function () { return 0; });
  mk(g, 'path', 'r4-pre-fault-band', {d: stepBand(zeros, r4BandDepth, sx, sy), fill: '#0000ff'});
  mk(g, 'path', 'r4-upper-spikes', {d: lensPath(r4Upper, function () { return 0.011; }, 7, sx, sy), fill: '#0000ff'});
  mk(g, 'path', 'r4-lower-spikes', {d: lensPath(r4Lower, function (t) { return t < 3.999 ? 0.01 : 0.0172; }, 6.5, sx, sy), fill: '#0000ff'});
  mk(g, 'line', 'r4-zero-band', {x1: box.x0, x2: box.x1, y1: sy(0), y2: sy(0), stroke: '#0000ff', 'stroke-width': 4.5});
  drawAxes('b4-axes', box, 1.5, 4, 2558, r4Ticks, r4TickLabels, sy, 1587, 16, 70, 'x-tick-label');
})();

// ---------- panel (c) ----------
function drawStat(prefix, box, times, values, limit, vmax, ticks, labels, labelRight, xBase) {
  const sx = linear(3.5, 4.5, box.x0, box.x1);
  const sy = linear(0, vmax, box.y0, box.y1);
  const g = document.getElementById(prefix + '-marks');
  mk(g, 'path', 'line-t2', {d: linePath(times, values, sx, sy), fill: 'none', stroke: '#0000ff', 'stroke-width': 8.5, 'stroke-linejoin': 'round'});
  mk(g, 'path', 'line-t-alpha', {d: linePath(limitTimes, limit, sx, sy), fill: 'none', stroke: '#ff0000', 'stroke-width': 8, 'stroke-dasharray': '20 19'});
  drawAxes(prefix + '-axes', box, 1.5, 4, xBase, ticks, labels, sy, labelRight, 18, 70, 'x-tick-label');
}
drawStat('c1', {x0: 289, x1: 1201, y0: 3359, y1: 2935}, t2R1Times, t2R1Values, limitR1, 1000, t2Ticks, t2TickLabels, 282, 3436);
drawStat('c2', {x0: 1592, x1: 2505, y0: 3359, y1: 2935}, t2R2Times, t2R2Values, limitR2, 180, t2R2Ticks, t2R2TickLabels, 1587, 3436);
drawStat('c3', {x0: 289, x1: 1201, y0: 4021, y1: 3597}, t2R3Times, t2R3Values, limitR3, 1000, t2Ticks, t2TickLabels, 282, 4097);
drawStat('c4', {x0: 1592, x1: 2505, y0: 4021, y1: 3597}, t2R4Times, t2R4Values, limitR4, 1000, t2Ticks, t2TickLabels, 1587, 4097);
</script>
</body>
</html>
